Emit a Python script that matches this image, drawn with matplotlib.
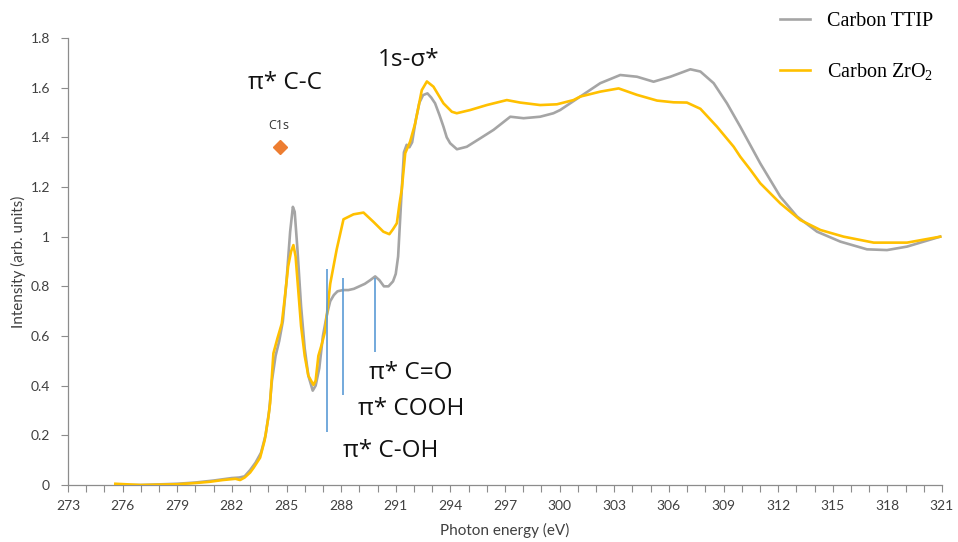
import matplotlib
matplotlib.use("Agg")
import matplotlib.pyplot as plt
from matplotlib.ticker import MultipleLocator, FixedLocator

plt.rcParams['font.family'] = ['Lato', 'DejaVu Sans']
plt.rcParams['mathtext.fontset'] = 'custom'
plt.rcParams['mathtext.rm'] = 'Liberation Serif'

# ---- data ----
energy_ttip = [275.7, 277.0, 279.0, 280.0, 281.0, 282.0, 282.4, 282.7, 283.0, 283.3, 283.6,
               283.85, 284.05, 284.2, 284.4, 284.6, 284.8, 285.0, 285.2, 285.35, 285.45,
               285.6, 285.8, 286.0, 286.2, 286.44, 286.6, 286.8, 287.0, 287.2, 287.4, 287.6,
               287.8, 288.1, 288.4, 288.7, 289.0, 289.3, 289.6, 289.87, 290.1, 290.35, 290.6,
               290.85, 291.0, 291.13, 291.3, 291.45, 291.6, 291.75, 291.9, 292.1, 292.3, 292.5,
               292.74, 292.95, 293.16, 293.4, 293.62, 293.8, 293.99, 294.36, 294.9, 295.64,
               296.37, 297.29, 298.02, 298.93, 299.66, 300.03, 300.58, 301.13, 302.23, 303.33,
               304.25, 305.16, 306.08, 307.18, 307.73, 308.46, 309.19, 309.92, 311.02, 312.12,
               313.04, 314.14, 315.42, 316.88, 317.98, 319.08, 320.9]
intensity_ttip = [0.0, 0.0, 0.005, 0.01, 0.018, 0.028, 0.03, 0.035, 0.06, 0.09, 0.13,
                  0.2, 0.3, 0.42, 0.52, 0.58, 0.66, 0.82, 1.02, 1.12, 1.10,
                  0.95, 0.72, 0.55, 0.44, 0.38, 0.40, 0.47, 0.60, 0.68, 0.74, 0.765,
                  0.78, 0.785, 0.785, 0.79, 0.80, 0.81, 0.825, 0.84, 0.825, 0.80, 0.80,
                  0.82, 0.85, 0.92, 1.15, 1.34, 1.37, 1.36, 1.38, 1.47, 1.54, 1.57,
                  1.577, 1.56, 1.537, 1.49, 1.443, 1.40, 1.376, 1.352, 1.362, 1.396,
                  1.43, 1.483, 1.477, 1.483, 1.497, 1.51, 1.537, 1.564, 1.618, 1.651,
                  1.644, 1.624, 1.644, 1.674, 1.665, 1.618, 1.537, 1.443, 1.295, 1.161,
                  1.081, 1.02, 0.98, 0.949, 0.946, 0.96, 1.0]

energy_zro2 = [275.6, 277.0, 279.0, 280.0, 280.8, 281.5, 282.2, 282.45, 282.7, 283.0, 283.2,
               283.55, 283.8, 284.0, 284.1, 284.28, 284.5, 284.74, 284.9, 285.09, 285.25,
               285.38, 285.5, 285.65, 285.8, 286.0, 286.2, 286.48, 286.6, 286.75, 286.95,
               287.12, 287.4, 287.76, 288.13, 288.68, 289.23, 289.77, 290.32, 290.65, 290.85,
               291.06, 291.2, 291.33, 291.52, 291.79, 292.07, 292.43, 292.71, 293.07, 293.62,
               294.08, 294.35, 295.09, 296.0, 297.1, 297.83, 298.93, 299.85, 300.76, 301.13,
               302.23, 303.24, 304.25, 305.35, 306.26, 306.99, 307.73, 308.64, 309.56, 309.92,
               310.47, 311.02, 312.12, 313.22, 314.32, 315.6, 317.25, 319.08, 320.9]
intensity_zro2 = [0.005, 0.0, 0.003, 0.008, 0.013, 0.02, 0.025, 0.02, 0.03, 0.05, 0.07,
                  0.11, 0.18, 0.27, 0.33, 0.53, 0.59, 0.65, 0.75, 0.88, 0.94,
                  0.966, 0.92, 0.78, 0.64, 0.52, 0.44, 0.403, 0.42, 0.52, 0.57,
                  0.62, 0.81, 0.95, 1.07, 1.09, 1.097, 1.06, 1.02, 1.01, 1.03,
                  1.054, 1.13, 1.19, 1.336, 1.383, 1.457, 1.59, 1.625, 1.604, 1.537,
                  1.503, 1.497, 1.51, 1.53, 1.55, 1.54, 1.53, 1.533, 1.55, 1.564,
                  1.584, 1.597, 1.571, 1.548, 1.541, 1.54, 1.515, 1.443, 1.362, 1.322,
                  1.27, 1.215, 1.134, 1.067, 1.027, 1.0, 0.976, 0.976, 1.0]

marker_energy = [287.23, 288.1, 289.87]
marker_top = [0.87, 0.834, 0.834]
marker_bottom = [0.213, 0.362, 0.536]

c1s_energy = [284.65]
c1s_intensity = [1.36]

x_ticks = list(range(273, 322, 3))
y_ticks = [0, 0.2, 0.4, 0.6, 0.8, 1.0, 1.2, 1.4, 1.6, 1.8]
y_tick_labels = ["0", "0.2", "0.4", "0.6", "0.8", "1", "1.2", "1.4", "1.6", "1.8"]

# ---- figure ----
fig = plt.figure(figsize=(9.58, 5.42), dpi=100)
ax = fig.add_axes([68 / 958, 57 / 542, (942 - 68) / 958, (485 - 38) / 542])

gray = '#A5A5A5'
gold = '#FFC000'
l1, = ax.plot(energy_ttip, intensity_ttip, color=gray, lw=1.9, label='Carbon TTIP', zorder=3)
l2, = ax.plot(energy_zro2, intensity_zro2, color=gold, lw=1.9, label='Carbon ZrO$_2$', zorder=4)

ax.vlines(marker_energy, marker_bottom, marker_top, color='#5B9BD5', lw=1.2, zorder=5)
ax.plot(c1s_energy, c1s_intensity, marker='D', ms=7, color='#ED7D31', ls='none', zorder=5)

ax.set_xlim(273, 321)
ax.set_ylim(0, 1.8)
ax.xaxis.set_major_locator(FixedLocator(x_ticks))
ax.xaxis.set_minor_locator(MultipleLocator(1))
ax.yaxis.set_major_locator(FixedLocator(y_ticks))
ax.set_yticklabels(y_tick_labels)

for s in ['top', 'right']:
    ax.spines[s].set_visible(False)
axis_col = '#8C8C8C'
for s in ['left', 'bottom']:
    ax.spines[s].set_color(axis_col)
    ax.spines[s].set_linewidth(0.9)
ax.tick_params(axis='both', which='both', colors=axis_col, labelcolor='#404040', labelsize=10)
ax.tick_params(axis='x', which='both', length=5, width=0.8, pad=6)
ax.tick_params(axis='y', which='major', length=5, width=0.8, pad=8)

ax.set_xlabel('Photon energy (eV)', fontsize=11, color='#404040', labelpad=8)
ax.set_ylabel('Intensity (arb. units)', fontsize=11, color='#404040', labelpad=3)

txt_kw = dict(fontsize=17.5, color='#111111', family=['Open Sans', 'DejaVu Sans'], ha='center', va='center')
ax.text(284.9, 1.62, 'π* C-C', **txt_kw)
ax.text(291.7, 1.71, '1s-σ*', **txt_kw)
ax.text(291.8, 0.45, 'π* C=O', **txt_kw)
ax.text(291.85, 0.305, 'π* COOH', **txt_kw)
ax.text(290.7, 0.135, 'π* C-OH', **txt_kw)
ax.text(284.6, 1.446, 'C1s', fontsize=9, color='#333333', ha='center', va='center',
        family=['Open Sans', 'DejaVu Sans'])

fig.legend(handles=[l1, l2], loc='upper left', bbox_to_anchor=(762 / 958, 1 + 6 / 542),
           frameon=False, handlelength=1.5, handletextpad=0.85, labelspacing=1.5,
           prop={'family': ['Liberation Serif', 'DejaVu Serif'], 'size': 14.5})

fig.savefig('out.png', dpi=100)
